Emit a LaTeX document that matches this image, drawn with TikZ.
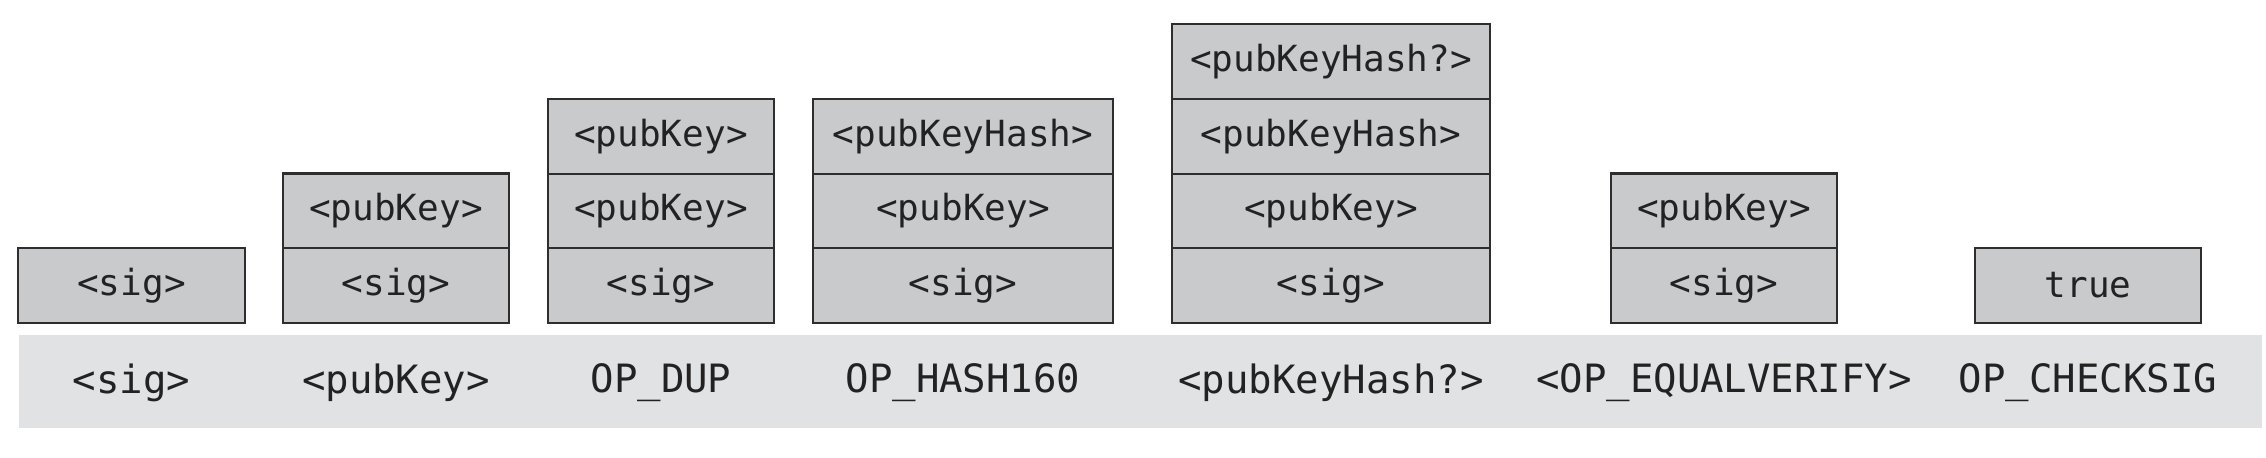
\documentclass[tikz,border=0pt]{standalone}
\usepackage{fontspec}
\newfontfamily\stackfont{DejaVu Sans Mono}
\definecolor{cellfill}{HTML}{C9CACC}
\definecolor{bandfill}{HTML}{E1E2E3}
\definecolor{edge}{HTML}{2E2E2E}
\definecolor{ink}{HTML}{222222}
\tikzset{
  cell/.style={draw=edge, line width=1.1pt, fill=cellfill, minimum height=37.4pt,
    inner sep=0pt, font=\stackfont\fontsize{18pt}{21pt}\selectfont, text=ink},
  bandbox/.style={fill=bandfill, draw=none, inner sep=0pt},
  oplabel/.style={inner sep=0pt, font=\stackfont\fontsize{19.5pt}{22pt}\selectfont, text=ink}
}
\begin{document}
\begin{tikzpicture}[x=0.5pt, y=-0.5pt]
  \useasboundingbox[fill=white] (0,0) rectangle (2266,458);
  % band
  \node[bandbox, minimum width=1121.5pt, minimum height=46.5pt] (band) at (1140.5,381.5) {};
  % row centres: 285.5, 211, 136.5, 61.5
  % stack 1
  \node[cell, minimum width=113.5pt] (a1) at (131.5,285.5) {<sig>};
  % stack 2
  \node[cell, minimum width=113pt] (b1) at (396,285.5) {<sig>};
  \node[cell, minimum width=113pt] (b2) at (396,211) {<pubKey>};
  % stack 3
  \node[cell, minimum width=113pt] (c1) at (661,285.5) {<sig>};
  \node[cell, minimum width=113pt] (c2) at (661,211) {<pubKey>};
  \node[cell, minimum width=113pt] (c3) at (661,136.5) {<pubKey>};
  % stack 4
  \node[cell, minimum width=150pt] (d1) at (963,285.5) {<sig>};
  \node[cell, minimum width=150pt] (d2) at (963,211) {<pubKey>};
  \node[cell, minimum width=150pt] (d3) at (963,136.5) {<pubKeyHash>};
  % stack 5
  \node[cell, minimum width=159pt] (e1) at (1331,285.5) {<sig>};
  \node[cell, minimum width=159pt] (e2) at (1331,211) {<pubKey>};
  \node[cell, minimum width=159pt] (e3) at (1331,136.5) {<pubKeyHash>};
  \node[cell, minimum width=159pt] (e4) at (1331,61.5) {<pubKeyHash?>};
  % stack 6
  \node[cell, minimum width=113pt] (f1) at (1724,285.5) {<sig>};
  \node[cell, minimum width=113pt] (f2) at (1724,211) {<pubKey>};
  % stack 7
  \node[cell, minimum width=113pt] (g1) at (2088,285.5) {true};
  % labels
  \node[oplabel] (l1) at (131.5,383) {<sig>};
  \node[oplabel] (l2) at (396,383) {<pubKey>};
  \node[oplabel] (l3) at (661,383) {OP\_DUP};
  \node[oplabel] (l4) at (963,383) {OP\_HASH160};
  \node[oplabel] (l5) at (1331,383) {<pubKeyHash?>};
  \node[oplabel] (l6) at (1724,383) {<OP\_EQUALVERIFY>};
  \node[oplabel] (l7) at (2088,383) {OP\_CHECKSIG};
\end{tikzpicture}
\end{document}
